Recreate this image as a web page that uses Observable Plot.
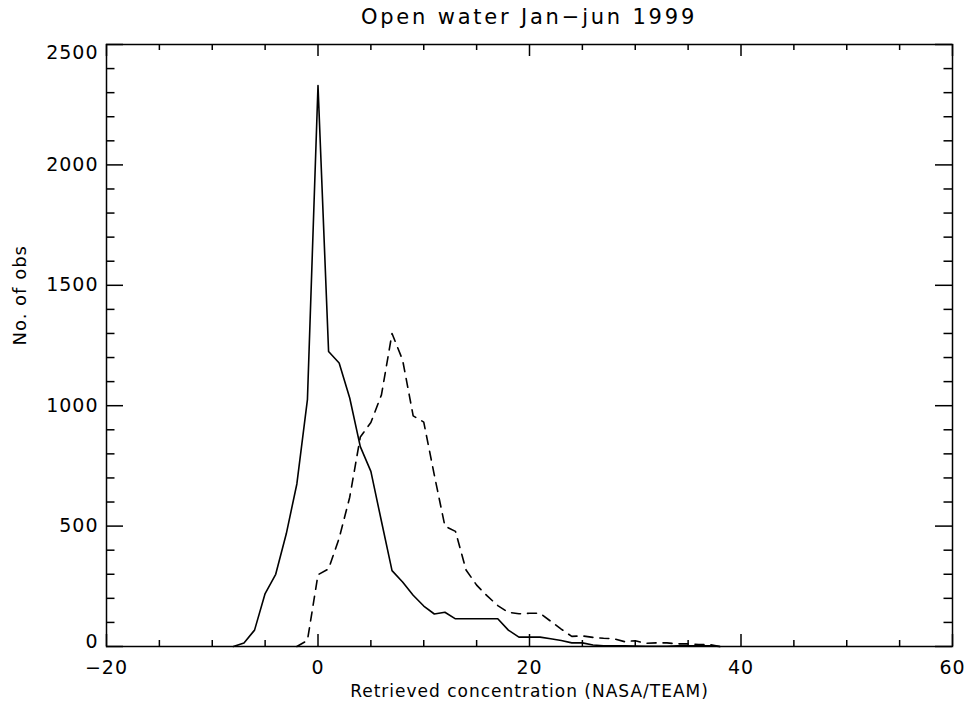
<!DOCTYPE html>
<html>
<head>
<meta charset="utf-8">
<script src="https://cdn.jsdelivr.net/npm/d3@7"></script>
<script src="https://cdn.jsdelivr.net/npm/@observablehq/plot@0.6"></script>
<style>
  html, body { margin: 0; padding: 0; background: #fff; }
  #title { width: 965px; height: 30px; box-sizing: border-box; padding-left: 93px;
           font-family: "DejaVu Sans", sans-serif; font-size: 21px; letter-spacing: 2.8px;
           text-align: center; line-height: 35px; color: #000; }
  svg text { letter-spacing: 1px; }
  svg text.xlab { letter-spacing: 0.9px; }
</style>
</head>
<body>
<div id="title">Open water Jan−jun 1999</div>
<div id="chart"></div>
<script>
// Bin centres (NASA/TEAM retrieved concentration)
const solidX = [-8,-7,-6,-5,-4,-3,-2,-1,0,1,2,3,4,5,6,7,8,9,10,11,12,13,14,15,16,17,18,19,20,21,22,23,24,25,26,27,28,29,30,31,32,33,34,35,36,37,38];
const solidY = [0,15,68,220,300,468,675,1025,2330,1225,1177,1032,830,727,520,315,268,213,168,135,142,115,115,115,115,115,68,39,39,39,32,25,15,15,6,3,3,3,2,1,1,1,3,3,3,3,0];

const dashX = [-2,-1,0,1,2,3,4,5,6,7,8,9,10,11,12,13,14,15,16,17,18,19,20,21,22,23,24,25,26,27,28,29,30,31,32,33,34,35,36,37,38];
const dashY = [0,25,298,322,450,620,870,930,1045,1300,1190,958,932,712,500,478,318,255,210,170,142,136,138,138,105,72,42,44,38,34,32,20,24,13,15,15,11,11,8,8,0];

const xTickValues = [-20, 0, 20, 40, 60];
const xTickLabels = ["−20", "0", "20", "40", "60"];
const xMinorTicks = [-15,-10,-5,5,10,15,25,30,35,45,50,55];
const yTickValues = [0, 500, 1000, 1500, 2000, 2500];
const yTickLabels = ["0", "500", "1000", "1500", "2000", "2500"];
const yMinorTicks = d3.range(0, 2501, 100).filter(v => v % 500 !== 0);

const xLabel = "Retrieved concentration (NASA/TEAM)";
const yLabel = "No. of obs";

const solid = solidX.map((x, i) => ({x, y: solidY[i]}));
const dashed = dashX.map((x, i) => ({x, y: dashY[i]}));

const W = 965, H = 676;
const mL = 106, mR = 13, mT = 14, mB = 60;
const fw = W - mL - mR, fh = H - mT - mB;
const font = 19;
const yLab = v => yTickLabels[yTickValues.indexOf(v)];
const xLab = v => xTickLabels[xTickValues.indexOf(v)];

const chart = Plot.plot({
  width: W, height: H,
  marginLeft: mL, marginRight: mR, marginTop: mT, marginBottom: mB,
  style: {fontFamily: "DejaVu Sans, sans-serif", fontSize: font + "px", color: "#000", background: "#fff"},
  x: {domain: [-20, 60]},
  y: {domain: [0, 2500]},
  marks: [
    Plot.frame({stroke: "#000", strokeWidth: 1.5}),
    // inward ticks, IDL style box axes
    Plot.ruleX(xTickValues, {insetTop: fh - 12, stroke: "#000", strokeWidth: 1.5}),
    Plot.ruleX(xTickValues, {insetBottom: fh - 12, stroke: "#000", strokeWidth: 1.5}),
    Plot.ruleX(xMinorTicks, {insetTop: fh - 6, stroke: "#000", strokeWidth: 1.5}),
    Plot.ruleX(xMinorTicks, {insetBottom: fh - 6, stroke: "#000", strokeWidth: 1.5}),
    Plot.ruleY(yTickValues, {insetRight: fw - 17, stroke: "#000", strokeWidth: 1.5}),
    Plot.ruleY(yTickValues, {insetLeft: fw - 17, stroke: "#000", strokeWidth: 1.5}),
    Plot.ruleY(yMinorTicks, {insetRight: fw - 8.5, stroke: "#000", strokeWidth: 1.5}),
    Plot.ruleY(yMinorTicks, {insetLeft: fw - 8.5, stroke: "#000", strokeWidth: 1.5}),
    Plot.axisX(xTickValues, {tickSize: 0, tickPadding: 14, tickFormat: xLab, label: null}),
    Plot.axisY([500, 1000, 1500, 2000], {tickSize: 0, tickPadding: 8, tickFormat: yLab, label: null}),
    Plot.axisY([2500], {tickSize: 0, tickPadding: 8, tickFormat: yLab, label: null, dy: 8}),
    Plot.axisY([0], {tickSize: 0, tickPadding: 8, tickFormat: yLab, label: null, dy: -5}),
    Plot.text([xLabel], {frameAnchor: "bottom", dy: 50, text: d => d, fontSize: 17, className: "xlab"}),
    Plot.text([yLabel], {frameAnchor: "left", dx: -86, rotate: -90, text: d => d, fontSize: 18}),
    Plot.line(solid, {x: "x", y: "y", stroke: "#000", strokeWidth: 1.6}),
    Plot.line(dashed, {x: "x", y: "y", stroke: "#000", strokeWidth: 1.6, strokeDasharray: "9,7"})
  ]
});
document.getElementById("chart").appendChild(chart);
</script>
</body>
</html>
